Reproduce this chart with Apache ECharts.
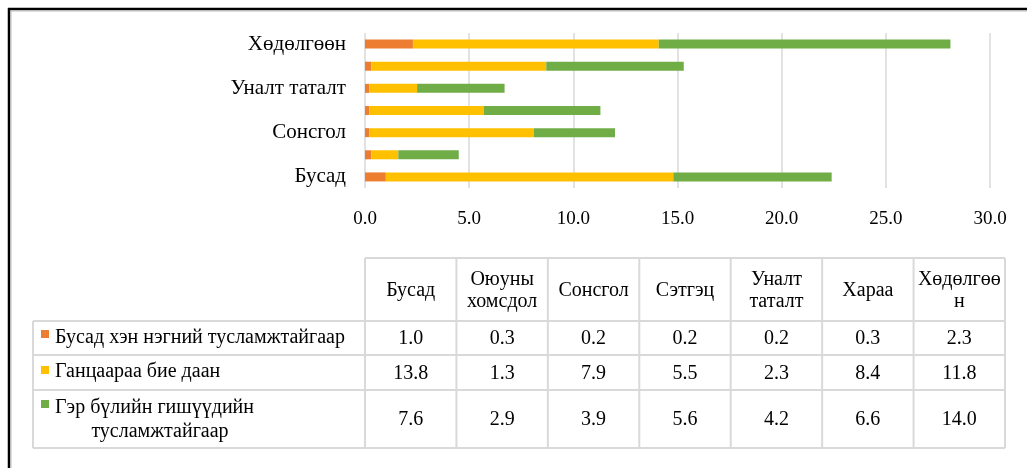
<!DOCTYPE html>
<html>
<head>
<meta charset="utf-8">
<script src="https://cdn.jsdelivr.net/npm/echarts@6/dist/echarts.min.js"></script>
<style>
  html, body { margin: 0; padding: 0; background: #fff; }
  #chart { width: 1027px; height: 468px; }
</style>
</head>
<body>
<div id="chart"></div>
<script>
// ангилал (доороос дээш)
const categories = ['Бусад', 'Оюуны хомсдол', 'Сонсгол', 'Сэтгэц', 'Уналт таталт', 'Хараа', 'Хөдөлгөөн']
// хүснэгтийн толгойн бичвэр
const headerLabels = ['Бусад', 'Оюуны\nхомсдол', 'Сонсгол', 'Сэтгэц', 'Уналт\nталат'.replace('талат', 'таталт'), 'Хараа', 'Хөдөлгөө\nн']
const seriesNames = ['Бусад хэн нэгний тусламжтайгаар', 'Ганцаараа бие даан', 'Гэр бүлийн гишүүдийн тусламжтайгаар']
const othersHelp = [1.0, 0.3, 0.2, 0.2, 0.2, 0.3, 2.3]
const alone = [13.8, 1.3, 7.9, 5.5, 2.3, 8.4, 11.8]
const familyHelp = [7.6, 2.9, 3.9, 5.6, 4.2, 6.6, 14.0]
const colors = ['#ED7D31', '#FFC000', '#70AD47']

const FONT = '"Liberation Serif", "Times New Roman", serif'
const chart = echarts.init(document.getElementById('chart'))

// хүснэгт зурах
const tbl = { left: 33, colStart: 365, right: 1005, rows: [258, 321, 355, 390, 448] }
const colW = (tbl.right - tbl.colStart) / categories.length
const lineColor = '#d9d9d9'
const graphics = []

const hLine = (x1, x2, y) => graphics.push({ type: 'line', shape: { x1, y1: y, x2, y2: y }, style: { stroke: lineColor, lineWidth: 2 } })
const vLine = (x, y1, y2) => graphics.push({ type: 'line', shape: { x1: x, y1, x2: x, y2 }, style: { stroke: lineColor, lineWidth: 2 } })
const txt = (text, x, y, align, size) => graphics.push({
  type: 'text', x, y,
  style: { text, font: `${size || 20}px ${FONT}`, fill: '#000', align: align || 'center', verticalAlign: 'middle', textAlign: align || 'center', textVerticalAlign: 'middle', lineHeight: 22 }
})

hLine(tbl.colStart, tbl.right, tbl.rows[0])
for (let r = 1; r < tbl.rows.length; r++) hLine(tbl.left, tbl.right, tbl.rows[r])
vLine(tbl.left, tbl.rows[1], tbl.rows[4])
for (let c = 0; c <= categories.length; c++) vLine(tbl.colStart + c * colW, tbl.rows[0], tbl.rows[4])

headerLabels.forEach((h, i) => txt(h, tbl.colStart + (i + 0.5) * colW, (tbl.rows[0] + tbl.rows[1]) / 2 + 1))
const seriesData = [othersHelp, alone, familyHelp]
seriesData.forEach((arr, r) => {
  const yc = (tbl.rows[r + 1] + tbl.rows[r + 2]) / 2
  arr.forEach((v, i) => txt(v.toFixed(1), tbl.colStart + (i + 0.5) * colW, yc + 1))
})
// тайлбар
const markerY = [330, 366, 400]
seriesNames.forEach((name, r) => {
  graphics.push({ type: 'rect', shape: { x: 41, y: markerY[r], width: 8, height: 8 }, style: { fill: colors[r] } })
})
txt(seriesNames[0], 55, 338, 'left')
txt(seriesNames[1], 55, 372, 'left')
txt('Гэр бүлийн гишүүдийн', 55, 408, 'left')
txt('тусламжтайгаар', 160, 432, 'center')

// хүрээ
graphics.push({ type: 'line', shape: { x1: 8, y1: 9, x2: 1027, y2: 9 }, style: { stroke: '#000', lineWidth: 2.5 } })
graphics.push({ type: 'line', shape: { x1: 9, y1: 8, x2: 9, y2: 468 }, style: { stroke: '#000', lineWidth: 2.5 } })
graphics.push({ type: 'line', shape: { x1: 10.5, y1: 11, x2: 1027, y2: 11 }, style: { stroke: '#bbb', lineWidth: 1 } })
graphics.push({ type: 'line', shape: { x1: 11, y1: 11, x2: 11, y2: 468 }, style: { stroke: '#bbb', lineWidth: 1 } })

const option = {
  backgroundColor: '#fff',
  animation: false,
  grid: { left: 365, right: 37, top: 33, bottom: 280, containLabel: false },
  xAxis: {
    type: 'value', min: 0, max: 30, interval: 5,
    axisLine: { show: false }, axisTick: { show: false },
    axisLabel: { formatter: v => v.toFixed(1), fontFamily: FONT, fontSize: 19, color: '#000', margin: 22 },
    splitLine: { lineStyle: { color: lineColor, width: 1.5 } }
  },
  yAxis: {
    type: 'category', data: categories,
    axisLine: { show: false }, axisTick: { show: false },
    axisLabel: { interval: 1, fontFamily: FONT, fontSize: 21, color: '#000', margin: 19 }
  },
  series: seriesData.map((d, i) => ({
    name: seriesNames[i], type: 'bar', stack: 'total', data: d,
    barWidth: 9, itemStyle: { color: colors[i] }
  })),
  graphic: graphics
}
chart.setOption(option)
</script>
</body>
</html>
